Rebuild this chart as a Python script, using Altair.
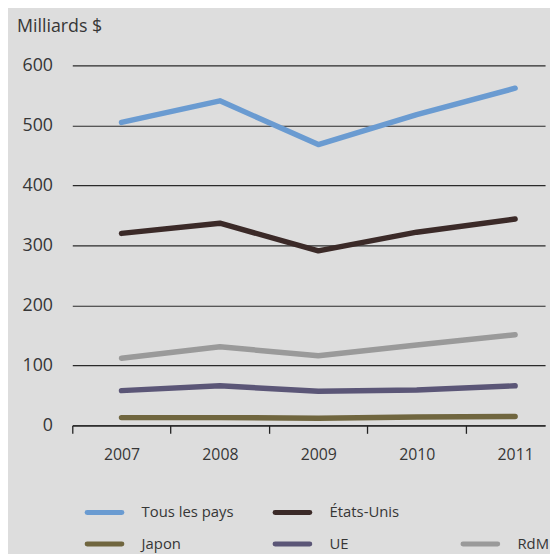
import altair as alt
import pandas as pd

years = [2007, 2008, 2009, 2010, 2011]
series = ["Tous les pays", "États-Unis", "Japon", "UE", "RdM"]
tous = [505, 541, 468, 518, 562]
usa = [320, 337, 291, 322, 344]
japon = [13, 13, 12, 14, 15]
ue = [58, 66, 57, 59, 66]
rdm = [112, 131, 116, 134, 151]
colors = ["#6a9bd1", "#3b2a28", "#70663f", "#5b5677", "#9a9a9a"]
y_ticks = [0, 100, 200, 300, 400, 500, 600]

values = [tous, usa, japon, ue, rdm]
rows = []
for s, vals in zip(series, values):
    for yr, v in zip(years, vals):
        rows.append({"year": yr, "series": s, "value": v})
df = pd.DataFrame(rows)

# axis positions: labels at the years, ticks halfway between them
x_axis_values = []
for yr in years:
    x_axis_values += [yr - 0.5, yr]

FONT = "Open Sans"
TXT = "#363636"
W = 478
H = 364

color = alt.Color("series:N", scale=alt.Scale(domain=series, range=colors), legend=None)

main = alt.Chart(df).mark_line(strokeWidth=5.5, strokeCap="round", strokeJoin="round").encode(
    x=alt.X("year:Q",
            scale=alt.Scale(domain=[years[0] - 0.5, years[0] - 0.5 + W / 99.5], nice=False, zero=False),
            axis=alt.Axis(title=None, values=x_axis_values, format=".0f",
                          labelOpacity={"condition": {"test": "datum.value % 1 === 0", "value": 1}, "value": 0},
                          tickOpacity={"condition": {"test": "datum.value % 1 !== 0", "value": 1}, "value": 0},
                          labelAngle=0, labelFlush=False, labelOverlap=False, labelBound=False,
                          tickSize=8, labelPadding=13, labelFontSize=16, labelFont=FONT,
                          domainColor="#222222", tickColor="#222222", domainWidth=1.3,
                          tickWidth=1.3, grid=False)),
    y=alt.Y("value:Q", scale=alt.Scale(domain=[0, 600], nice=False),
            axis=alt.Axis(values=y_ticks, title="Milliards $", titleAngle=0, titleAlign="left",
                          titleBaseline="alphabetic", titleX=-56.5, titleY=-34.7,
                          titleFontSize=18, titleFontWeight="normal", titleFont=FONT,
                          labelFontSize=18, labelFont=FONT, labelPadding=20, tickSize=0, ticks=False,
                          domain=False, grid=True, gridColor="#2a2a2a", gridWidth=1.2)),
    color=color,
).properties(width=W, height=H)

leg_rows = []
for i, s in enumerate(series):
    r = 0 if i < 2 else 1
    c = i if i < 2 else i - 2
    leg_rows.append({"series": s, "row": r, "x1": c, "x2": c + 0.185, "xt": c + 0.29})
leg = pd.DataFrame(leg_rows)

x0 = -15 / 190
xs = alt.Scale(domain=[x0, x0 + W / 190], nice=False, zero=False)
ys = alt.Scale(domain=[0, 1], reverse=True, nice=False)

leg_rule = alt.Chart(leg).mark_rule(strokeWidth=5, strokeCap="round").encode(
    x=alt.X("x1:Q", scale=xs, axis=None),
    x2="x2:Q",
    y=alt.Y("row:Q", scale=ys, axis=None),
    color=color,
)
leg_text = alt.Chart(leg).mark_text(align="left", baseline="middle", fontSize=15, font=FONT, color=TXT).encode(
    x=alt.X("xt:Q", scale=xs, axis=None),
    y=alt.Y("row:Q", scale=ys, axis=None),
    text="series:N",
)
legend = alt.layer(leg_rule, leg_text).properties(width=W, height=32)

chart = alt.vconcat(main, legend, spacing=44).configure(
    background="#dddddd",
    padding={"left": 8, "top": 6, "right": 0, "bottom": 0},
).configure_view(strokeWidth=0).configure_axis(
    labelColor=TXT, titleColor=TXT
)

chart.save("out.html", embed_options={"renderer": "svg", "actions": False})
